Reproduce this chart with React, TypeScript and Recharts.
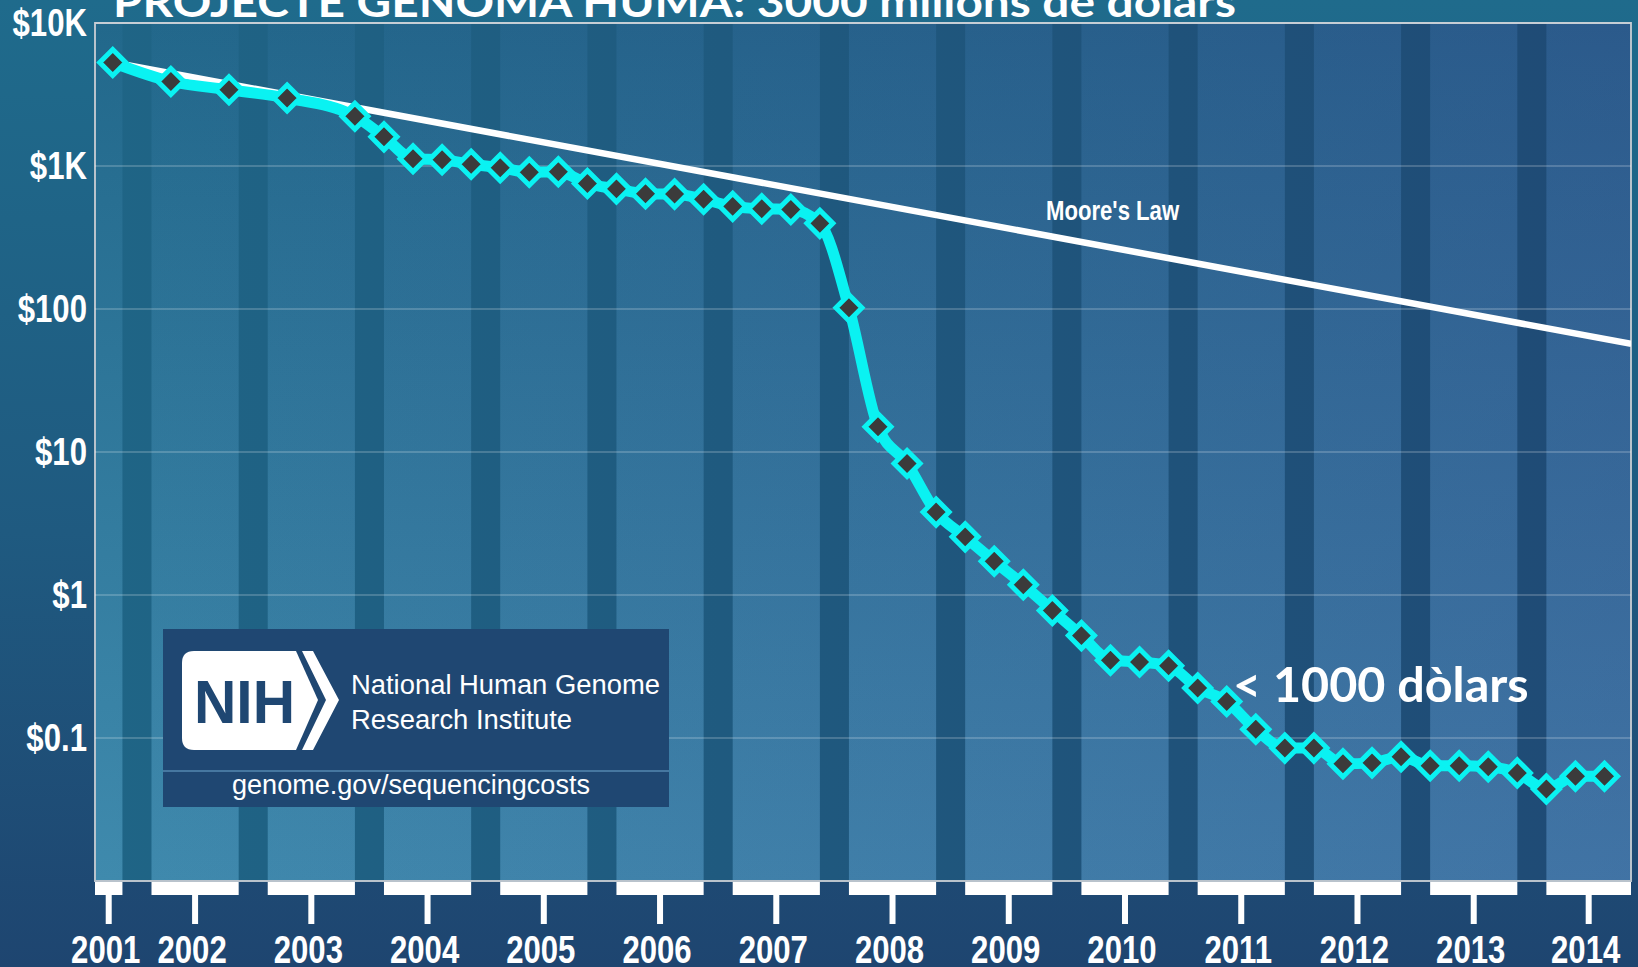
import React from "react";
import { LineChart, Line, XAxis, YAxis, ReferenceArea, ReferenceLine } from "recharts";

// quarterly sequencing cost per raw megabase (USD)
const months = [
  "2001-09", "2002-03", "2002-09", "2003-03", "2003-10",
  "2004-01", "2004-04", "2004-07", "2004-10",
  "2005-01", "2005-04", "2005-07", "2005-10",
  "2006-01", "2006-04", "2006-07", "2006-10",
  "2007-01", "2007-04", "2007-07", "2007-10",
  "2008-01", "2008-04", "2008-07", "2008-10",
  "2009-01", "2009-04", "2009-07", "2009-10",
  "2010-01", "2010-04", "2010-07", "2010-10",
  "2011-01", "2011-04", "2011-07", "2011-10",
  "2012-01", "2012-04", "2012-07", "2012-10",
  "2013-01", "2013-04", "2013-07", "2013-10",
  "2014-01", "2014-04", "2014-07",
];
const costs = [
  5292, 3899, 3414, 2986, 2231,
  1599, 1125, 1107, 1029,
  972, 905, 912, 755,
  692, 640, 636, 585,
  522, 502, 497, 397,
  102, 15.0, 8.3, 3.8,
  2.55, 1.72, 1.18, 0.78,
  0.52, 0.35, 0.34, 0.32,
  0.224, 0.18, 0.115, 0.085,
  0.085, 0.066, 0.067, 0.074,
  0.064, 0.064, 0.063, 0.057,
  0.044, 0.054, 0.054,
];

// Moore's law reference line (start / end)
const mooreX = [2001.67, 2014.73];
const mooreCost = [5292, 57];

const years = [2001, 2002, 2003, 2004, 2005, 2006, 2007, 2008, 2009, 2010, 2011, 2012, 2013, 2014];
const yTicks = [10000, 1000, 100, 10, 1, 0.1];
const yTickLabels = ["$10K", "$1K", "$100", "$10", "$1", "$0.1"];

const W = 1638;
const H = 967;
const PLOT_L = 95;
const PLOT_R = 1631;
const PLOT_T = 23;
const PLOT_B = 881;
const X_MIN = 2001.514;
const X_MAX = 2014.728;
const pxPerYear = (PLOT_R - PLOT_L) / (X_MAX - X_MIN);

const CYAN = "#0af2f2";
const SANS = "'Liberation Sans', Arial, sans-serif";
const LATO = "Lato, 'Open Sans', sans-serif";
const NARROW = 0.82; // horizontal squeeze to mimic a condensed face

const toYear = (m: string) => {
  const [y, mo] = m.split("-").map(Number);
  return y + (mo - 1) / 12;
};

const data = months.map((m, i) => ({ x: toYear(m), cost: costs[i] }));
const mooreData = mooreX.map((x, i) => ({ x, moore: mooreCost[i] }));

// white bar under each year: Jan..Sep, the Oct..Dec quarter is the dark stripe
const barSpans = years.map((y) => [Math.max(y, X_MIN), Math.min(y + 0.75, X_MAX)]);
const xTicks = barSpans.map(([a, b]) => (a + b) / 2);
const stripes = years.slice(0, -1).map((y) => [y + 0.75, y + 1]);

const NarrowText = ({ x, y, size, anchor, children }: any) => (
  <text
    transform={`translate(${x},${y}) scale(${NARROW},1)`}
    textAnchor={anchor}
    fill="#fff"
    fontFamily={SANS}
    fontWeight="bold"
    fontSize={size}
  >
    {children}
  </text>
);

const XTick = (props: any) => {
  const { x, y, index } = props;
  const [a, b] = barSpans[index];
  const w = (b - a) * pxPerYear;
  return (
    <g>
      <rect x={x - w / 2} y={y + 1} width={w} height={13} fill="#fff" />
      <rect x={x - 3} y={y + 14} width={6} height={29} fill="#fff" />
      <NarrowText x={x - 3} y={963} size={38} anchor="middle">
        {years[index]}
      </NarrowText>
    </g>
  );
};

const YTick = (props: any) => {
  const { x, y, index } = props;
  return (
    <NarrowText x={x} y={y + 13} size={38} anchor="end">
      {yTickLabels[index]}
    </NarrowText>
  );
};

const Diamond = (props: any) => {
  const { cx, cy, index } = props;
  const r = 13;
  return (
    <path
      key={index}
      d={`M${cx},${cy - r} L${cx + r},${cy} L${cx},${cy + r} L${cx - r},${cy} Z`}
      fill="#3b3b3b"
      stroke={CYAN}
      strokeWidth={5}
    />
  );
};

export default function App() {
  return (
    <div
      style={{
        position: "absolute",
        left: 0,
        top: 0,
        width: W,
        height: H,
        overflow: "hidden",
        background: "linear-gradient(180deg, #1f6b8c 0%, #1f5a80 55%, #1e4570 100%)",
      }}
    >
      <LineChart
        width={W}
        height={H}
        margin={{ top: PLOT_T, right: W - PLOT_R, bottom: 0, left: 0 }}
      >
        <defs>
          <linearGradient id="plotV" x1="0" y1="0" x2="0" y2="1">
            <stop offset="0%" stopColor="#22688b" />
            <stop offset="100%" stopColor="#3f8aad" />
          </linearGradient>
          <linearGradient id="plotH" x1="0" y1="0" x2="1" y2="0">
            <stop offset="0%" stopColor="#46328c" stopOpacity={0} />
            <stop offset="100%" stopColor="#46328c" stopOpacity={0.26} />
          </linearGradient>
          <linearGradient id="stripe" gradientUnits="userSpaceOnUse" x1={PLOT_L} y1="0" x2={PLOT_R} y2="0">
            <stop offset="0%" stopColor="#1f6586" />
            <stop offset="100%" stopColor="#1f4a75" />
          </linearGradient>
        </defs>
        <XAxis
          type="number"
          dataKey="x"
          domain={[X_MIN, X_MAX]}
          allowDataOverflow
          ticks={xTicks}
          interval={0}
          height={H - PLOT_B}
          tickSize={0}
          tickMargin={0}
          tickLine={false}
          axisLine={false}
          tick={<XTick />}
        />
        <YAxis
          type="number"
          scale="log"
          domain={[0.01, 10000]}
          allowDataOverflow
          ticks={yTicks}
          interval={0}
          width={PLOT_L}
          tickSize={0}
          tickMargin={8}
          tickLine={false}
          axisLine={false}
          tick={<YTick />}
        />
        <ReferenceArea x1={X_MIN} x2={X_MAX} y1={0.01} y2={10000} fill="url(#plotV)" fillOpacity={1} stroke="none" />
        <ReferenceArea x1={X_MIN} x2={X_MAX} y1={0.01} y2={10000} fill="url(#plotH)" fillOpacity={1} stroke="none" />
        {stripes.map(([a, b]) => (
          <ReferenceArea key={a} x1={a} x2={b} y1={0.01} y2={10000} fill="url(#stripe)" fillOpacity={1} stroke="none" />
        ))}
        {yTicks.map((t) => (
          <ReferenceLine key={t} y={t} stroke="rgba(255,255,255,0.38)" strokeWidth={1.2} />
        ))}
        <ReferenceArea
          x1={X_MIN}
          x2={X_MAX}
          y1={0.01}
          y2={10000}
          fill="none"
          stroke="#b9c3cc"
          strokeWidth={2}
        />
        <Line
          data={mooreData}
          dataKey="moore"
          type="linear"
          stroke="#ffffff"
          strokeWidth={6.5}
          dot={false}
          isAnimationActive={false}
        />
        <Line
          data={data}
          dataKey="cost"
          type="monotone"
          stroke={CYAN}
          strokeWidth={11}
          dot={Diamond}
          activeDot={false}
          isAnimationActive={false}
        />
      </LineChart>

      {/* annotations drawn over the plot */}
      <svg
        width={W}
        height={H}
        style={{ position: "absolute", left: 0, top: 0, pointerEvents: "none" }}
      >
        <text
          x={113}
          y={17}
          fill="#fff"
          fontFamily={LATO}
          fontWeight="bold"
          fontSize={42}
          textLength={1123}
          lengthAdjust="spacingAndGlyphs"
        >
          PROJECTE GENOMA HUMÀ: 3000 milions de dòlars
        </text>
        <NarrowText x={1046} y={220} size={27} anchor="start">
          Moore's Law
        </NarrowText>
        <text x={1233} y={702} fill="#fff" fontFamily={LATO} fontWeight="bold" fontSize={48.5}>
          {"< 1000 dòlars"}
        </text>

        {/* NIH badge */}
        <rect x={163} y={629} width={506} height={178} fill="#1f4772" />
        <line x1={163} x2={669} y1={771} y2={771} stroke="#4677a0" strokeWidth={2} />
        <path
          d="M194,651 L296,651 L318,700 L296,750 L194,750 Q182,750 182,738 L182,663 Q182,651 194,651 Z"
          fill="#fff"
        />
        <path d="M302,651 L313,651 L339,700 L313,750 L302,750 L326,700 Z" fill="#fff" />
        <text
          x={194}
          y={723}
          fill="#1f4772"
          fontFamily={SANS}
          fontWeight="bold"
          fontSize={62}
          textLength={101}
          lengthAdjust="spacingAndGlyphs"
        >
          NIH
        </text>
        <text
          x={351}
          y={694}
          fill="#fff"
          fontFamily={SANS}
          fontSize={27}
          textLength={309}
          lengthAdjust="spacingAndGlyphs"
        >
          National Human Genome
        </text>
        <text
          x={351}
          y={729}
          fill="#fff"
          fontFamily={SANS}
          fontSize={27}
          textLength={221}
          lengthAdjust="spacingAndGlyphs"
        >
          Research Institute
        </text>
        <text
          x={232}
          y={794}
          fill="#fff"
          fontFamily={SANS}
          fontSize={27}
          textLength={358}
          lengthAdjust="spacingAndGlyphs"
        >
          genome.gov/sequencingcosts
        </text>
      </svg>
    </div>
  );
}
